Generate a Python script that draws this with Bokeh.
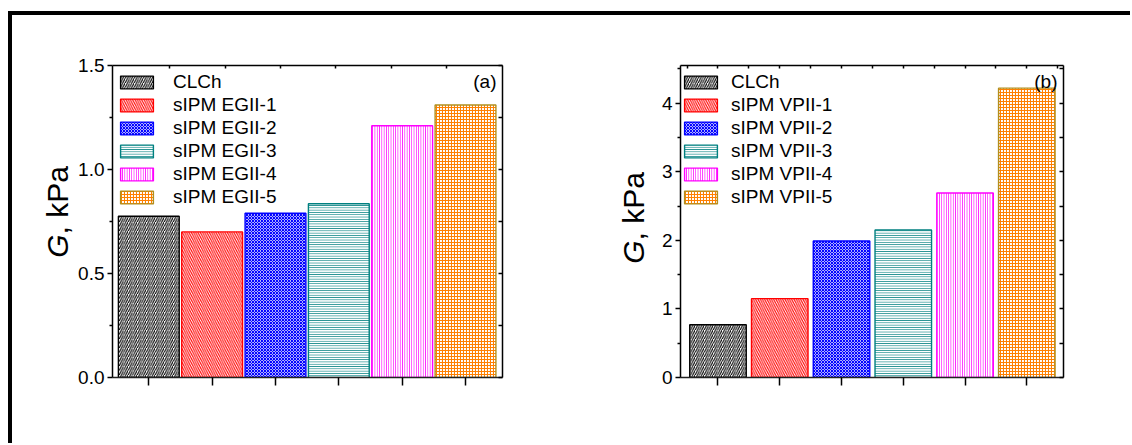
import math
from bokeh.plotting import figure
from bokeh.models import Range1d, LinearAxis, FixedTicker, Label, NumeralTickFormatter, Div
from bokeh.layouts import row
from bokeh.embed import file_html
from bokeh.resources import INLINE

# ---------------- data ----------------
categories_a = ["CLCh", "sIPM EGII-1", "sIPM EGII-2", "sIPM EGII-3", "sIPM EGII-4", "sIPM EGII-5"]
values_a = [0.775, 0.70, 0.79, 0.835, 1.21, 1.31]
categories_b = ["CLCh", "sIPM VPII-1", "sIPM VPII-2", "sIPM VPII-3", "sIPM VPII-4", "sIPM VPII-5"]
values_b = [0.77, 1.15, 1.99, 2.15, 2.69, 4.22]
y_ticks_a = [0.0, 0.5, 1.0, 1.5]
y_ticks_b = [0, 1, 2, 3, 4]
panel_tags = ["(a)", "(b)"]
y_label_italic = "G"
y_label_rest = ", kPa"

# ---------------- styles ----------------
FONT = "Liberation Sans"
LINE_COLORS = ["#000000", "#ff0000", "#0000ff", "#008080", "#ff00ff", "#b09020"]
HATCH_COLORS = ["#000000", "#ff0000", "#0000ff", "#008080", "#ff00ff", "#ff8000"]
HATCH_PATTERNS = ["/", "\\", "x", "-", "|", "+"]
HATCH_SCALES = [4.5, 4.5, 3.0, 2.3, 2.3, 3.0]
HATCH_WEIGHTS = [1.1, 1.1, 1.2, 1.0, 1.0, 1.1]

FIG_H = 428
MB_TOP = 50
MB_BOTTOM = 66
PAGE_TOP = 15   # 11 margin + 4 border
YLABEL_FS = 30
LEGEND_ITEM_H = 22.2
LEGEND_H_CORR = -10


def make_panel(cats, vals, width, page_left, min_left, frame_w, xr, yr, bar_width,
               y_ticks, y_minor, y_fmt, right_ticks, top_ticks, tag,
               legend_dx, legend_dy, legend_standoff):
    min_right = width - min_left - frame_w
    frame_h = FIG_H - MB_TOP - MB_BOTTOM
    p = figure(width=width, height=FIG_H, x_range=Range1d(*xr), y_range=Range1d(*yr),
               output_backend="svg", toolbar_location=None,
               min_border_left=min_left, min_border_right=min_right,
               min_border_top=MB_TOP, min_border_bottom=MB_BOTTOM)
    p.xgrid.visible = False
    p.ygrid.visible = False
    p.outline_line_color = None
    p.background_fill_color = "white"
    p.border_fill_color = "white"

    fl = page_left + min_left
    fr = fl + frame_w
    ft = PAGE_TOP + MB_TOP
    fb = PAGE_TOP + FIG_H - MB_BOTTOM

    def to_data(px, py):
        x = xr[0] + (px - fl) * (xr[1] - xr[0]) / (fr - fl)
        y = yr[0] + (fb - py) * (yr[1] - yr[0]) / (fb - ft)
        return x, y

    xs = list(range(1, len(cats) + 1))
    for i, (c, v) in enumerate(zip(cats, vals)):
        p.vbar(x=[xs[i]], top=[v], bottom=0, width=bar_width,
               fill_color="white", line_color=LINE_COLORS[i], line_width=1.4,
               hatch_pattern=HATCH_PATTERNS[i], hatch_color=HATCH_COLORS[i],
               hatch_scale=HATCH_SCALES[i], hatch_weight=HATCH_WEIGHTS[i],
               legend_label=c)

    pad = 5
    spacing = 1
    n = len(cats)
    leg_h = n * LEGEND_ITEM_H + (n - 1) * spacing + 2 * pad + LEGEND_H_CORR
    lg = p.legend[0]
    lg.location = (legend_dx, frame_h - legend_dy - leg_h)
    lg.margin = 0
    lg.padding = pad
    lg.spacing = spacing
    lg.glyph_width = 41
    lg.glyph_height = 16
    lg.label_height = 16
    lg.label_standoff = legend_standoff
    lg.label_text_font = FONT
    lg.label_text_font_size = "19px"
    lg.label_text_color = "black"
    lg.border_line_color = None
    lg.background_fill_alpha = 0

    # left axis
    ya = p.yaxis[0]
    ya.ticker = FixedTicker(ticks=y_ticks, minor_ticks=y_minor)
    ya.formatter = NumeralTickFormatter(format=y_fmt)
    ya.major_tick_out = 5
    ya.major_tick_in = 0
    ya.minor_tick_out = 3
    ya.minor_tick_in = 0
    ya.axis_line_width = 1.5
    ya.major_tick_line_width = 1.5
    ya.minor_tick_line_width = 1.5
    ya.major_label_standoff = 3
    ya.major_label_text_font = FONT
    ya.major_label_text_font_size = "19px"
    ya.major_label_text_color = "black"

    # bottom axis
    xa = p.xaxis[0]
    xa.ticker = FixedTicker(ticks=xs, minor_ticks=[])
    xa.major_label_overrides = {x: "" for x in xs}
    xa.major_tick_out = 8
    xa.major_tick_in = 0
    xa.axis_line_width = 1.5
    xa.major_tick_line_width = 1.5
    xa.axis_line_color = "#222222"

    # top axis
    ta = LinearAxis(ticker=FixedTicker(ticks=top_ticks, minor_ticks=[]))
    ta.major_label_overrides = {t: "" for t in top_ticks}
    ta.major_tick_in = 3
    ta.major_tick_out = 0
    ta.axis_line_width = 1.5
    ta.major_tick_line_width = 1.5
    p.add_layout(ta, "above")

    # right axis
    ra = LinearAxis(ticker=FixedTicker(ticks=right_ticks, minor_ticks=[]))
    ra.major_label_overrides = {t: "" for t in right_ticks}
    ra.major_tick_in = 4
    ra.major_tick_out = 0
    ra.axis_line_width = 1.5
    ra.major_tick_line_width = 1.5
    p.add_layout(ra, "right")

    # panel tag
    tx, ty = to_data(fr - 6, ft + 5)
    p.add_layout(Label(x=tx, y=ty, text=tag, text_align="right", text_baseline="top",
                       text_font=FONT, text_font_size="19px", text_color="black"))
    return p


def ylabel_div(width, cx, cy):
    html = (
        f'<div style="margin:0; padding-left:{cx}px; padding-top:{cy}px; font-size:0; line-height:0;">'
        f'<span style="display:inline-block; vertical-align:top; white-space:nowrap; '
        f'font-family:\'{FONT}\'; font-size:{YLABEL_FS}px; line-height:1; color:black; '
        f'transform:translate(-50%,-50%) rotate(-90deg);">'
        f'<i>{y_label_italic}</i>{y_label_rest}</span></div>'
    )
    return Div(text=html, width=width, height=FIG_H,
               styles={"padding": "0px", "margin": "0px"})


# panel (a): div 12..74, figure 74..580 (frame 112..502)
div_a = ylabel_div(62, 58 - 12, 212 - PAGE_TOP)
p1 = make_panel(categories_a, values_a, width=506, page_left=74, min_left=38, frame_w=390,
                xr=(0.427, 6.584), yr=(0, 1.5), bar_width=0.96,
                y_ticks=y_ticks_a, y_minor=[0.25, 0.75, 1.25], y_fmt="0.0",
                right_ticks=[0, 0.25, 0.5, 0.75, 1.0, 1.25, 1.5],
                top_ticks=[1.33, 2.21, 3.08, 3.94, 4.83, 5.70],
                tag=panel_tags[0], legend_dx=4, legend_dy=5, legend_standoff=16)

# panel (b): div 580..650, figure 650..1130 (frame 680..1063)
div_b = ylabel_div(70, 634 - 580, 218 - PAGE_TOP)
p2 = make_panel(categories_b, values_b, width=480, page_left=650, min_left=30, frame_w=383,
                xr=(0.393, 6.594), yr=(0, 4.55), bar_width=0.915,
                y_ticks=y_ticks_b, y_minor=[0.5, 1.5, 2.5, 3.5, 4.5], y_fmt="0",
                right_ticks=[0, 0.5, 1, 1.5, 2, 2.5, 3, 3.5, 4, 4.5],
                top_ticks=[0.5, 1, 1.5, 2, 2.5, 3, 3.5, 4, 4.5, 5, 5.5, 6, 6.5],
                tag=panel_tags[1], legend_dx=0, legend_dy=5, legend_standoff=10)

layout = row(div_a, p1, div_b, p2,
             styles={"border-left": "4px solid black",
                     "border-top": "4px solid black",
                     "margin-top": "11px",
                     "margin-left": "8px",
                     "background-color": "white"})

open("out.html", "w").write(file_html(layout, INLINE))
